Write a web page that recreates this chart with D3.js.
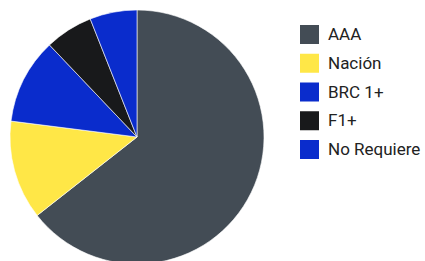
<!DOCTYPE html>
<html lang="es">
    <head>
        <meta charset="utf-8">
        <title>Pie</title>
        <script src="https://d3js.org/d3.v7.min.js"></script>
        <style>
            body { margin: 0; background: #fff; }
        </style>
    </head>
    <body>
        <div id="chart_area"></div>
        <script type="text/javascript">
            // data (share of total, %)
            var categories = ["AAA", "Nación", "BRC 1+", "F1+", "No Requiere"];
            var values = [64.4, 12.6, 10.9, 6.1, 6.0];
            var colors = ["#434c55", "#ffe747", "#0a2ccc", "#18191b", "#0a2ccc"];

            var width = 425, height = 261;
            var cx = 137, cy = 137, radius = 127;

            var svg = d3.select("#chart_area").append("svg")
                .attr("width", width).attr("height", height);

            var pie_g = svg.append("g").attr("transform", "translate(" + cx + "," + cy + ")");

            var pie = d3.pie().sort(null).value(function(d){ return d; });
            var arc = d3.arc().innerRadius(0).outerRadius(radius);

            pie_g.selectAll("path")
                .data(pie(values))
                .enter().append("path")
                .attr("d", arc)
                .attr("fill", function(d, i){ return colors[i]; })
                .attr("stroke", "#fff")
                .attr("stroke-width", 0.6);

            // legend on the right
            var legend = svg.append("g").attr("transform", "translate(300,25)");
            var row = d3.scaleLinear().domain([0, 1]).range([0, 28.75]);

            var items = legend.selectAll("g.item")
                .data(categories)
                .enter().append("g")
                .attr("class", "item")
                .attr("transform", function(d, i){ return "translate(0," + row(i) + ")"; });

            items.append("rect")
                .attr("width", 19).attr("height", 19)
                .attr("fill", function(d, i){ return colors[i]; });

            items.append("text")
                .attr("x", 28).attr("y", 15)
                .attr("font-family", "Roboto, sans-serif")
                .attr("font-size", 17)
                .attr("fill", "#222")
                .text(function(d){ return d; });
        </script>
    </body>
</html>
